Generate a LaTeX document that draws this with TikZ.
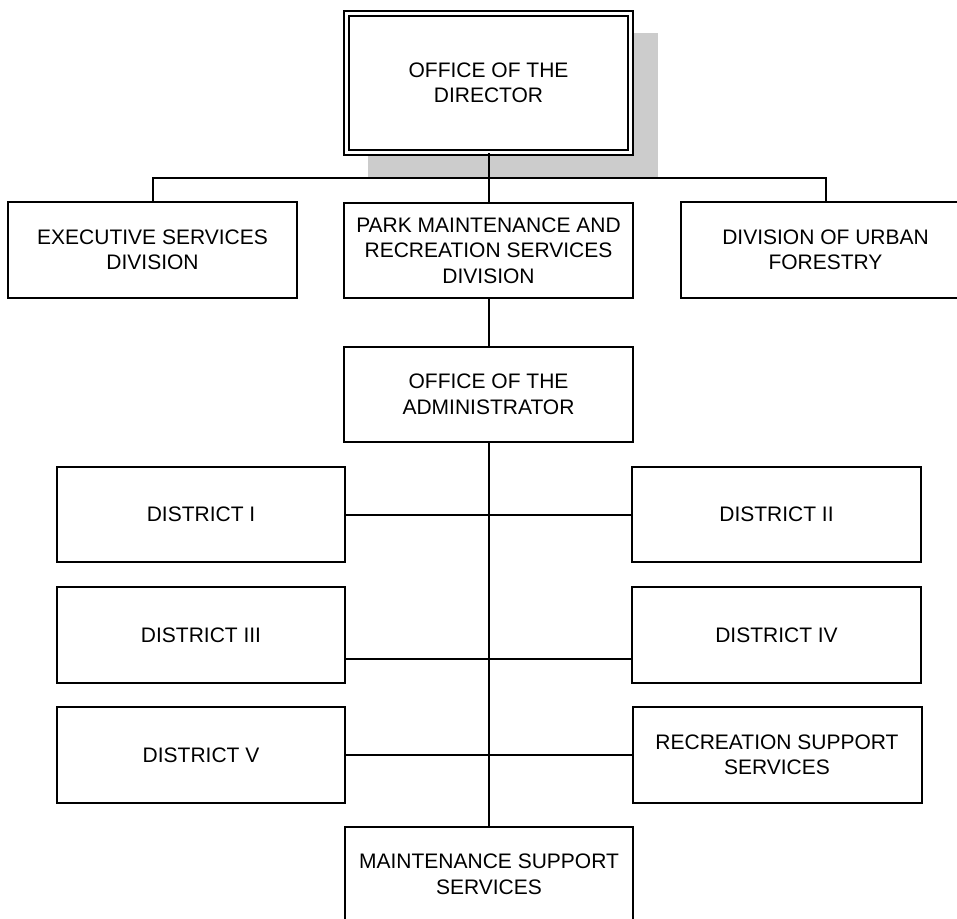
\documentclass[tikz,border=0pt]{standalone}
\usepackage{fontspec}
\setmainfont{Liberation Sans}
\begin{document}
\begin{tikzpicture}[x=1pt,y=-1pt,
  box/.style={draw=black,line width=2pt,fill=white,inner sep=0pt,align=center,
    minimum width=289pt,minimum height=95pt,font=\fontsize{21}{25.5}\selectfont},
  dbox/.style={box,double=white,double distance=3pt,minimum width=284pt,minimum height=138.5pt},
  conn/.style={draw=black,line width=2pt},
  shadowfill/.style={fill=black!20}]
\useasboundingbox (0,0) rectangle (957,918);
\clip (0,0) rectangle (957,918);
% shadow of the director box
\path[shadowfill] (368,33) rectangle (658,177);
% nodes
\node[dbox] (dir) at (488.5,82.75) {OFFICE OF THE\\DIRECTOR};
\node[box,minimum height=96pt] (exec) at (152.5,250) {EXECUTIVE SERVICES\\DIVISION};
\node[box] (park) at (488.5,250.5) {PARK MAINTENANCE AND\\RECREATION SERVICES\\DIVISION};
\node[box,minimum height=96pt] (urban) at (825.5,250) {DIVISION OF URBAN\\FORESTRY};
\node[box] (admin) at (488.5,394.5) {OFFICE OF THE\\ADMINISTRATOR};
\node[box,minimum width=288pt] (d1) at (201,514.5) {DISTRICT I};
\node[box] (d2) at (776.5,514.5) {DISTRICT II};
\node[box,minimum width=288pt,minimum height=96pt] (d3) at (201,635) {DISTRICT III};
\node[box,minimum height=96pt] (d4) at (776.5,635) {DISTRICT IV};
\node[box,minimum width=288pt,minimum height=96pt] (d5) at (201,755) {DISTRICT V};
\node[box,minimum height=96pt] (rec) at (777,755) {RECREATION SUPPORT\\SERVICES};
\node[box,minimum width=288pt] (maint) at (489,874.5) {MAINTENANCE SUPPORT\\SERVICES};
% connectors
\coordinate (bus) at (488.5,178);
\draw[conn] (dir.south) -- (park.north);
\draw[conn] (exec.north) |- (bus) -| (urban.north);
\draw[conn] (park.south) -- (admin.south |- park.south) -- (admin.north);
\draw[conn] (admin.south) -- (admin.south |- maint.north);
\draw[conn] (d1.east) -- (d2.west);
\draw[conn] ([yshift=-24pt]d3.east) -- ([yshift=-24pt]d4.west);
\draw[conn] (d5.east) -- (rec.west);
\end{tikzpicture}
\end{document}
